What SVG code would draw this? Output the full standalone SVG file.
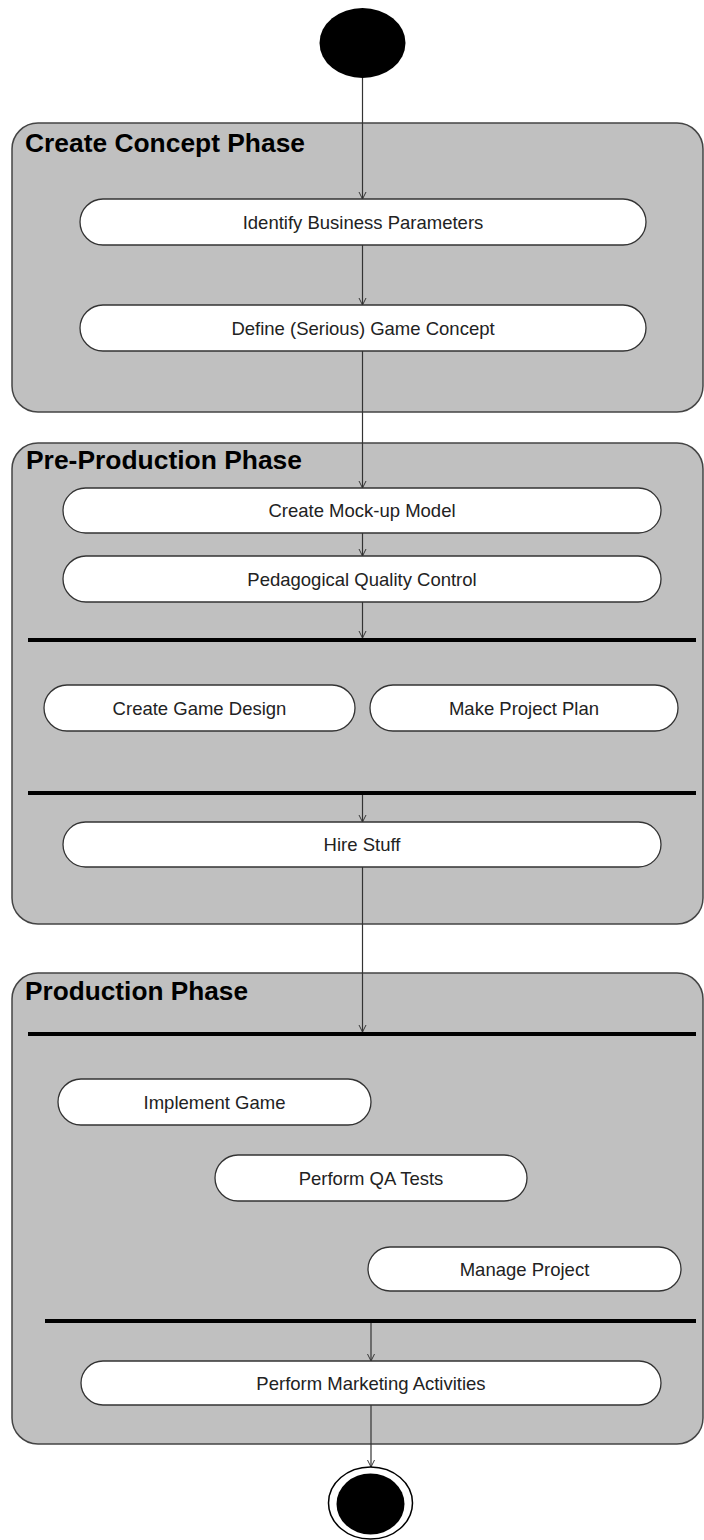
<svg xmlns="http://www.w3.org/2000/svg" width="704" height="1540" viewBox="0 0 704 1540">
  <defs>
    <style>
      .phase { fill: #c0c0c0; stroke: #444; stroke-width: 1.5; }
      .phase-title { font-family: "Liberation Sans", Arial, sans-serif; font-weight: bold; font-size: 25px; fill: #000; }
      .action { fill: #fff; stroke: #333; stroke-width: 1.3; }
      .label { font-family: "Liberation Sans", Arial, sans-serif; font-size: 18.5px; fill: #222; text-anchor: middle; }
      .bar { stroke: #000; stroke-width: 4; }
      .flow { stroke: #333; stroke-width: 1.2; fill: none; marker-end: url(#arrow); }
    </style>
    <marker id="arrow" viewBox="0 0 10 10" refX="10" refY="5" markerWidth="7" markerHeight="9" markerUnits="userSpaceOnUse" orient="auto">
      <path d="M0,0 L10,5 L0,10" fill="none" stroke="#333" stroke-width="1.4"/>
    </marker>
  </defs>

  <rect width="704" height="1540" fill="#fff"/>

  <!-- Phases (swimlane containers) -->
  <g id="phase-concept">
    <rect class="phase" x="12" y="123" width="691" height="289" rx="26" ry="26"/>
    <text class="phase-title" x="25" y="152" textLength="280" lengthAdjust="spacingAndGlyphs">Create Concept Phase</text>
  </g>
  <g id="phase-preproduction">
    <rect class="phase" x="12" y="443" width="691" height="481" rx="26" ry="26"/>
    <text class="phase-title" x="26" y="469" textLength="276" lengthAdjust="spacingAndGlyphs">Pre-Production Phase</text>
  </g>
  <g id="phase-production">
    <rect class="phase" x="12" y="973" width="691" height="471" rx="26" ry="26"/>
    <text class="phase-title" x="25" y="1000" textLength="223" lengthAdjust="spacingAndGlyphs">Production Phase</text>
  </g>

  <!-- Fork / join bars -->
  <g id="bar-fork-1"><line class="bar" x1="28" y1="640" x2="696" y2="640"/></g>
  <g id="bar-join-1"><line class="bar" x1="28" y1="793" x2="696" y2="793"/></g>
  <g id="bar-fork-2"><line class="bar" x1="28" y1="1034" x2="696" y2="1034"/></g>
  <g id="bar-join-2"><line class="bar" x1="45" y1="1321" x2="696" y2="1321"/></g>

  <!-- Connectors -->
  <g id="connectors">
    <line class="flow" x1="362.5" y1="78" x2="362.5" y2="199"/>
    <line class="flow" x1="362.5" y1="245" x2="362.5" y2="305"/>
    <line class="flow" x1="362.5" y1="351" x2="362.5" y2="488"/>
    <line class="flow" x1="362.5" y1="533" x2="362.5" y2="556"/>
    <line class="flow" x1="362.5" y1="602" x2="362.5" y2="638"/>
    <line class="flow" x1="362.5" y1="795" x2="362.5" y2="822"/>
    <line class="flow" x1="362.5" y1="867" x2="362.5" y2="1032"/>
    <line class="flow" x1="371" y1="1323" x2="371" y2="1361"/>
    <line class="flow" x1="371" y1="1405" x2="371" y2="1467"/>
  </g>

  <!-- Start / end nodes -->
  <g id="start">
    <ellipse cx="362.5" cy="43" rx="43" ry="35" fill="#000"/>
  </g>
  <g id="end">
    <ellipse cx="370.5" cy="1503" rx="42" ry="36" fill="#fff" stroke="#000" stroke-width="1.5"/>
    <ellipse cx="370.5" cy="1504" rx="34" ry="30.5" fill="#000"/>
  </g>

  <!-- Actions -->
  <g id="identify-business-parameters">
    <rect class="action" x="80" y="199" width="566" height="46" rx="23" ry="23"/>
    <text class="label" x="363" y="228.5">Identify Business Parameters</text>
  </g>
  <g id="define-game-concept">
    <rect class="action" x="80" y="305" width="566" height="46" rx="23" ry="23"/>
    <text class="label" x="363" y="334.5">Define (Serious) Game Concept</text>
  </g>
  <g id="create-mockup-model">
    <rect class="action" x="63" y="488" width="598" height="45" rx="22.5" ry="22.5"/>
    <text class="label" x="362" y="517">Create Mock-up Model</text>
  </g>
  <g id="pedagogical-quality-control">
    <rect class="action" x="63" y="556" width="598" height="46" rx="23" ry="23"/>
    <text class="label" x="362" y="585.5">Pedagogical Quality Control</text>
  </g>
  <g id="create-game-design">
    <rect class="action" x="44" y="685" width="311" height="46" rx="23" ry="23"/>
    <text class="label" x="199.5" y="714.5">Create Game Design</text>
  </g>
  <g id="make-project-plan">
    <rect class="action" x="370" y="685" width="308" height="46" rx="23" ry="23"/>
    <text class="label" x="524" y="714.5">Make Project Plan</text>
  </g>
  <g id="hire-stuff">
    <rect class="action" x="63" y="822" width="598" height="45" rx="22.5" ry="22.5"/>
    <text class="label" x="362" y="851">Hire Stuff</text>
  </g>
  <g id="implement-game">
    <rect class="action" x="58" y="1079" width="313" height="46" rx="23" ry="23"/>
    <text class="label" x="214.5" y="1108.5">Implement Game</text>
  </g>
  <g id="perform-qa-tests">
    <rect class="action" x="215" y="1155" width="312" height="46" rx="23" ry="23"/>
    <text class="label" x="371" y="1184.5">Perform QA Tests</text>
  </g>
  <g id="manage-project">
    <rect class="action" x="368" y="1247" width="313" height="44" rx="22" ry="22"/>
    <text class="label" x="524.5" y="1275.5">Manage Project</text>
  </g>
  <g id="perform-marketing-activities">
    <rect class="action" x="81" y="1361" width="580" height="44" rx="22" ry="22"/>
    <text class="label" x="371" y="1389.5">Perform Marketing Activities</text>
  </g>
</svg>
